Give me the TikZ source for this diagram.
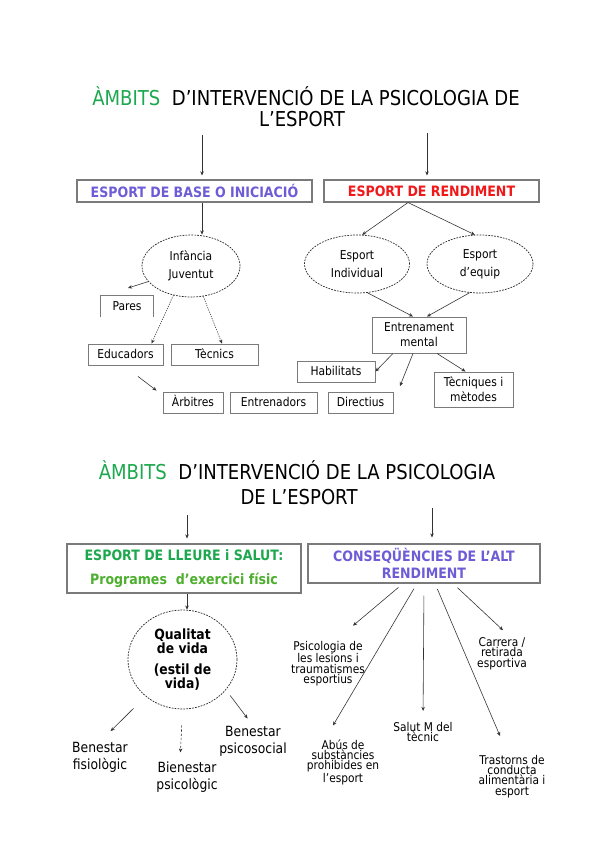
\documentclass[tikz,border=0pt]{standalone}
\usepackage{fontspec}
\setmainfont{DejaVu Sans}[FakeStretch=0.88]
\usepackage{tikz}
\usetikzlibrary{positioning, arrows.meta, shapes.geometric, calc}
\definecolor{ambGreen}{HTML}{1DA84F}
\definecolor{ambLime}{HTML}{4DAF2E}
\definecolor{ambViolet}{HTML}{6E5CD6}
\definecolor{ambRed}{HTML}{F01818}
\definecolor{ambGray}{HTML}{7A7A7A}
\definecolor{ambDark}{HTML}{333333}
\newcommand\pxu{0.03cm}

\begin{document}
\begin{tikzpicture}[
  x=0.03cm, y=-0.03cm,
  every node/.style={font=\rmfamily, text=black},
  heading/.style={anchor=base, inner sep=0pt, font=\fontsize{17.5}{20}\selectfont},
  areabox/.style={
    rectangle, draw=ambGray, line width=0.9pt, inner sep=0pt,
    minimum width={#1*\pxu}, minimum height={22*\pxu},
    align=center, font=\fontsize{12.2}{15}\selectfont\bfseries
  },
  itembox/.style={
    rectangle, draw=ambGray, line width=0.8pt, inner sep=0pt,
    minimum width={#1*\pxu}, minimum height={21*\pxu},
    text height=1.6ex, text depth=0.4ex,
    align=center, font=\fontsize{10.4}{12.8}\selectfont
  },
  oval/.style={
    ellipse, draw=black!85, line width=0.6pt, dash pattern=on 1.5pt off 1pt,
    inner sep=0pt, align=center, font=\fontsize{10.4}{15.4}\selectfont
  },
  note/.style={inner sep=0pt, align=center, font=\fontsize{12}{14.5}\selectfont},
  tiny/.style={inner sep=0pt, align=center, font=\fontsize{10.3}{8.8}\selectfont},
  linkarrow/.style={-{Stealth[length=3.5pt, width=3pt]}, line width=0.5pt, draw=ambDark},
]

\fill[white] (0,0) rectangle (600,848);

% === FIRST CHART ===
\node[heading] (t1) at (306,105.5) {\textcolor{ambGreen}{ÀMBITS}\ \ D’INTERVENCIÓ DE LA PSICOLOGIA DE};
\node[heading] (t2) at (302,126.5) {L’ESPORT};

\node[areabox=235, text=ambViolet] (base) at (194.5,191) {ESPORT DE BASE O INICIACIÓ};
\node[areabox=215, text=ambRed] (rend) at (431.5,191) {ESPORT DE RENDIMENT};

\node[oval, minimum width={98*\pxu}, minimum height={62*\pxu}] (inf) at (191,266) {Infància\\Juventut};
\node[oval, minimum width={105*\pxu}, minimum height={58*\pxu}] (ind) at (357,264) {Esport\\Individual};
\node[oval, minimum width={106*\pxu}, minimum height={58*\pxu}] (equ) at (480,264) {Esport\\d’equip};

\node[itembox=94, minimum height={36*\pxu}, text height=, text depth=] (ent) at (419,335) {Entrenament\\mental};
\node[itembox=78] (hab) at (336,371.5) {Habilitats};
\node[itembox=79, minimum height={35*\pxu}, text height=, text depth=] (tec) at (473.5,389.5) {Tècniques i\\mètodes};
\node[itembox=65] (dir) at (360.5,402.5) {Directius};
\node[itembox=87] (entr) at (273.5,402.5) {Entrenadors};
\node[itembox=60] (arb) at (193,402.5) {Àrbitres};
\node[itembox=75] (edu) at (125.5,354.5) {Educadors};
\node[itembox=87] (tecn) at (214.5,354.5) {Tècnics};
\node[itembox=52, draw=none] (par) at (127,306.5) {Pares};
\draw[ambGray, line width=0.8pt] (par.south west) -- (par.north west) -- (par.north east) -- (par.south east);

\coordinate (pA) at (202,135);
\coordinate (pB) at (427,133);
\coordinate (fr1) at (400,386);
\coordinate (fr2) at (128,288);

\draw[linkarrow, shorten >={4*\pxu}] (pA) -- (pA |- base.north);
\draw[linkarrow, shorten >={4*\pxu}] (pB) -- (pB |- rend.north);
\draw[linkarrow] (base.south -| pA) -- (inf.north -| pA);
\draw[linkarrow] ($(rend.south)+(-23.5,0)$) -- (ind.80);
\draw[linkarrow] ($(rend.south)+(-23.5,0)$) -- (equ.100);
\draw[linkarrow] (ind.-70) -- ($(ent.north)+(-6,0)$);
\draw[linkarrow] (equ.-110) -- ($(ent.north)+(8,0)$);
\draw[linkarrow] ($(ent.south)+(-26,0)$) -- (hab.east);
\draw[linkarrow] ($(ent.south)+(-6,0)$) -- (fr1);
\draw[linkarrow] ($(ent.south)+(18,0)$) -- ($(tec.north)+(-8,0)$);
\draw[linkarrow] (inf.200) -- (fr2);
\draw[linkarrow, dash pattern=on 1pt off 1pt] (inf.239) -- ($(edu.north)+(26,0)$);
\draw[linkarrow, dash pattern=on 1pt off 1pt] (inf.292) -- ($(tecn.north)+(7.5,0)$);
\draw[linkarrow] ($(edu.south)+(12.5,11)$) -- ($(arb.north west)+(-6,-1)$);

% === SECOND CHART ===
\node[heading] (t3) at (297,479) {\textcolor{ambGreen}{ÀMBITS}\ \ D’INTERVENCIÓ DE LA PSICOLOGIA};
\node[heading] (t4) at (299,504) {DE L’ESPORT};

\node[areabox=234, minimum height={49*\pxu}, font=\fontsize{12.2}{21}\selectfont\bfseries] (lle) at (184,568.5)
  {\textcolor{ambGreen}{ESPORT DE LLEURE i SALUT:}\\\textcolor{ambLime}{Programes\ \ d’exercici físic}};
\node[areabox=232, minimum height={39*\pxu}, text=ambViolet] (con) at (424,563.5) {CONSEQÜÈNCIES DE L’ALT\\RENDIMENT};

\node[oval, minimum width={109*\pxu}, minimum height={99*\pxu}, font=\fontsize{12}{12}\selectfont\bfseries] (qual) at (182.5,659.5)
  {Qualitat\\de vida\\[6pt](estil de\\vida)};

\node[note] (fis) at (100,757) {Benestar\\fisiològic};
\node[note] (psi) at (187,777) {Bienestar\\psicològic};
\node[note] (soc) at (253,741) {Benestar\\psicosocial};

\node[tiny] (les) at (328,663.5) {Psicologia de\\les lesions i\\traumatismes\\esportius};
\node[tiny] (carr) at (502,653.5) {Carrera /\\retirada\\esportiva};
\node[tiny] (sal) at (423,732) {Salut M del\\tècnic};
\node[tiny] (abu) at (343,762.5) {Abús de\\substàncies\\prohibides en\\l’esport};
\node[tiny] (tras) at (512,776.5) {Trastorns de\\conducta\\alimentària i\\esport};

\coordinate (pC) at (187,515);
\coordinate (pD) at (432,508);

\draw[linkarrow, shorten >={5*\pxu}] (pC) -- (pC |- lle.north);
\draw[linkarrow, shorten >={6*\pxu}] (pD) -- (pD |- con.north);
\draw[linkarrow] (lle.south -| pC) -- (qual.north -| pC);
\draw[linkarrow, shorten <={17*\pxu}, shorten >={15*\pxu}] (qual.225) -- (fis.north);
\draw[linkarrow, dash pattern=on 2pt off 1.5pt, shorten <={16*\pxu}, shorten >={9*\pxu}] (qual.south) -- ($(psi.north)+(-7,0)$);
\draw[linkarrow, shorten <={7*\pxu}, shorten >={9*\pxu}] (qual.-35) -- (soc.north);
\draw[linkarrow, shorten <={6*\pxu}] ($(con.south)+(-21,0)$) -- ($(les.north)+(25,-15)$);
\draw[linkarrow, shorten <={6*\pxu}] ($(con.south)+(-7,0)$) -- ($(abu.north)+(-10,-14)$);
\draw[linkarrow, shorten <={12*\pxu}, shorten >={11*\pxu}] (con.south) -- (sal.north);
\draw[linkarrow, shorten <={6*\pxu}] ($(con.south)+(11,0)$) -- ($(tras.north)+(-12,-19)$);
\draw[linkarrow, shorten <={6*\pxu}] ($(con.south)+(29,0)$) -- ($(carr.north)+(1,-7)$);

\end{tikzpicture}
\end{document}
